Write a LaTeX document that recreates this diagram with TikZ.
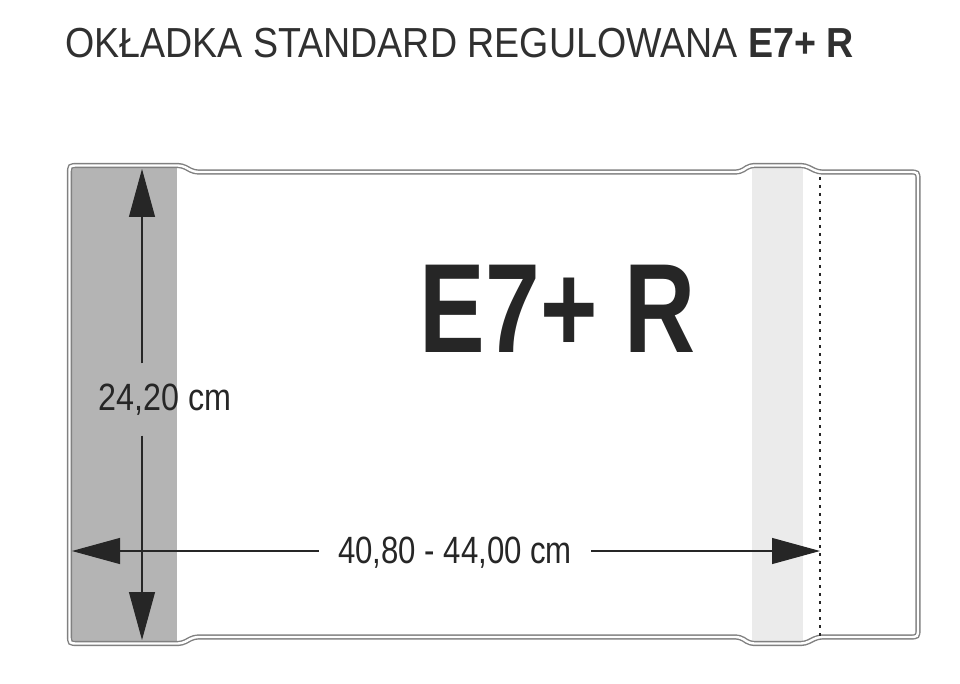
\documentclass[tikz,border=0pt]{standalone}
\usepackage{fontspec}
\setmainfont{Liberation Sans}
\usetikzlibrary{arrows.meta}
\definecolor{ink}{HTML}{262626}
\definecolor{titleink}{HTML}{303030}
\definecolor{edge}{HTML}{808080}
\definecolor{panel}{HTML}{B4B4B4}
\definecolor{band}{HTML}{EBEBEB}
\begin{document}
\begin{tikzpicture}[x=1pt,y=-1pt,
  dim/.style={draw=ink, line width=1.1pt, -{Triangle[length=48pt,width=26pt]}},
  dimlabel/.style={font=\fontsize{38}{38}\selectfont, text=ink, inner sep=0pt},
  outline/.style={draw=edge, line width=1.4pt, double=white, double distance=2.4pt, rounded corners=4pt}]
\useasboundingbox (0,0) rectangle (960,684);
\fill[white] (0,0) rectangle (960,684);
% title
\node[anchor=base west, inner sep=0pt, text=titleink, font=\fontsize{42}{42}\selectfont] (title) at (65,58)
  {\scalebox{0.895}[1]{OKŁADKA STANDARD REGULOWANA \textbf{E7+ R}}};
% panels
\fill[panel] (71,166) rectangle (177,642);
\fill[band] (752,166) rectangle (803,643);
% outline
\draw[outline]
  (69.5,178) .. controls (69.5,165.5) .. (82,165.5) -- (182,165.5) -- (194,172) -- (740,172)
  -- (750,165.5) -- (805,165.5) -- (818,172) -- (905,172) .. controls (918,172) .. (918,185)
  -- (918,624) .. controls (918,637) .. (905,637) -- (818,637) -- (805,643.5) -- (750,643.5)
  -- (740,637) -- (194,637) -- (182,643.5) -- (82,643.5) .. controls (69.5,643.5) .. (69.5,631) -- cycle;
% dotted fold line
\coordinate (ft) at (820,177);
\coordinate (fb) at (820,636);
\draw[ink, line width=1.6pt, dash pattern=on 3pt off 5pt] (ft) -- (fb);
% big label
\node[anchor=base, inner sep=0pt, text=ink, font=\fontsize{127}{127}\selectfont\bfseries] (big) at (558,352)
  {\scalebox{0.775}[1]{E7+ R}};
% vertical dimension
\coordinate (vt) at (142,169);
\coordinate (vb) at (142,640);
\node[dimlabel, minimum height=72pt] (l1) at (165,399.5) {\scalebox{0.85}[1]{24,20 cm}};
\draw[dim] (vt |- l1.north) -- (vt);
\draw[dim] (vb |- l1.south) -- (vb);
% horizontal dimension
\coordinate (hl) at (72,551);
\coordinate (hr) at (820,551);
\node[dimlabel, inner xsep=19pt] (l2) at (455,552.5) {\scalebox{0.82}[1]{40,80 - 44,00 cm}};
\draw[dim] (l2.west |- hl) -- (hl);
\draw[dim] (l2.east |- hr) -- (hr);
\end{tikzpicture}
\end{document}
